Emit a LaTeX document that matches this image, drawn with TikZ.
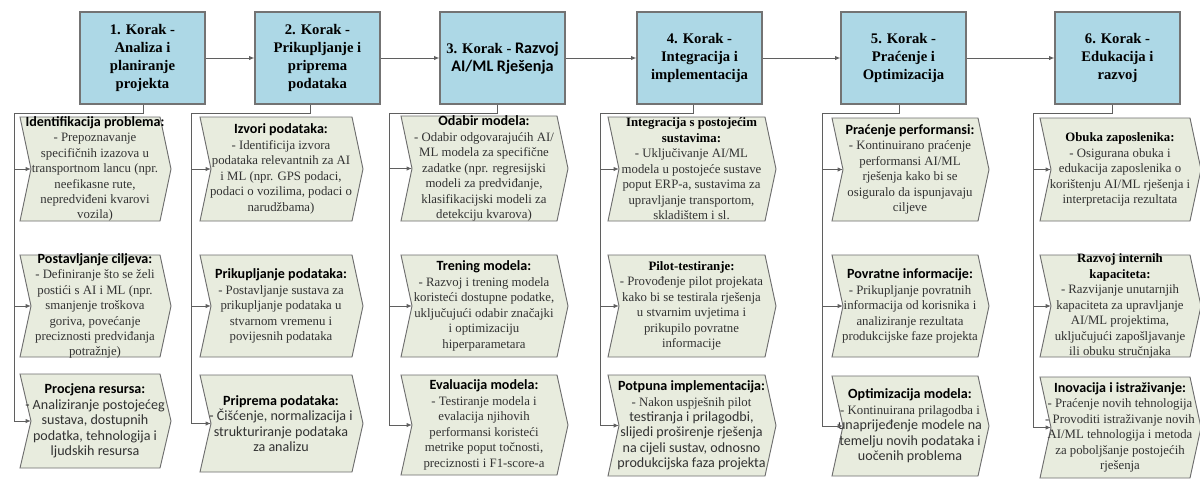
\documentclass[tikz,border=0pt]{standalone}
\usepackage{fontspec}
\setmainfont{Liberation Serif}
\newfontfamily\calib[Scale=1.1]{Carlito}
\usetikzlibrary{arrows.meta,calc}
\definecolor{hdrfill}{RGB}{173,216,230}
\definecolor{hdrline}{RGB}{115,115,115}
\definecolor{chfill}{RGB}{232,236,222}
\definecolor{chline}{RGB}{110,110,110}
\definecolor{connc}{RGB}{95,95,95}
\definecolor{bodytxt}{RGB}{50,50,50}
\newcommand\ts[1]{{\calib\bfseries\color{black}#1}}
\newcommand\tb[1]{{\bfseries\color{black}#1}}
\newcommand\sn[1]{{\calib #1}}
\tikzset{
  hdr/.style={draw=hdrline, fill=hdrfill, line width=0.8pt, minimum width=93.75pt,
    minimum height=69pt, align=center, inner sep=2pt,
    font=\fontsize{11}{13.6}\selectfont\bfseries},
  chshape/.style={draw=chline, fill=chfill, line width=0.7pt, line join=miter},
  chtext/.style={align=center, inner sep=0pt, text=bodytxt,
    font=\fontsize{9.6}{11.6}\selectfont},
  conn/.style={draw=connc, line width=0.7pt},
  arr/.style={conn, -{Latex[length=4pt,width=3.2pt]}},
}
% #1 name, #2 left x, #3 right x, #4 top y, #5 bottom y, #6 text
\newcommand\chev[6]{%
  \path[chshape] (#2,#4) -- (#3,#4) -- ({#3+11},{(#4+#5)/2}) -- (#3,#5) -- (#2,#5)
     -- ({#2+11},{(#4+#5)/2}) -- cycle;
  \node[chtext] (#1) at ({(#2+#3)/2+5},{(#4+#5)/2}) {#6};
  \coordinate (#1-in) at ({#2+11},{(#4+#5)/2});
}
\begin{document}
\begin{tikzpicture}[x=0.75pt,y=-0.75pt]
\useasboundingbox (0,0) rectangle (1200,480);
\fill[white] (0,0) rectangle (1200,480);

% header boxes
\node[hdr] (b1) at (142.5,58) {1. Korak -\\Analiza i\\planiranje\\projekta};
\node[hdr] (b2) at (317.5,58) {2. Korak -\\Prikupljanje i\\priprema\\podataka};
\node[hdr] (b3) at (502.5,58) {3. Korak - {\calib Razvoj}\\{\calib AI/ML Rješenja}};
\node[hdr] (b4) at (699.5,58) {4. Korak -\\Integracija i\\implementacija};
\node[hdr] (b5) at (903.5,58) {5. Korak -\\Praćenje i\\Optimizacija};
\node[hdr] (b6) at (1117.5,58) {6. Korak -\\Edukacija i\\razvoj};

\draw[arr] (b1) -- (b2);
\draw[arr] (b2) -- (b3);
\draw[arr] (b3) -- (b4);
\draw[arr] (b4) -- (b5);
\draw[arr] (b5) -- (b6);

% column 1
\chev{c11}{20}{160}{117}{221}{\ts{Identifikacija problema:}\\- Prepoznavanje\\specifičnih izazova u\\transportnom lancu (npr.\\neefikasne rute,\\nepredviđeni kvarovi\\vozila)}
\chev{c12}{20}{160}{255}{357}{\ts{Postavljanje ciljeva:}\\- Definiranje što se želi\\postići s AI i ML (npr.\\smanjenje troškova\\goriva, povećanje\\preciznosti predviđanja\\potražnje)}
\chev{c13}{20}{160}{374}{468}{\ts{Procjena resursa:}\\\sn{- Analiziranje postojećeg}\\\sn{sustava, dostupnih}\\\sn{podatka, tehnologija i}\\\sn{ljudskih resursa}}

% column 2
\chev{c21}{200}{352}{117}{221}{\ts{Izvori podataka:}\\- Identificija izvora\\podataka relevantnih za AI\\i ML (npr. GPS podaci,\\podaci o vozilima, podaci o\\narudžbama)}
\chev{c22}{200}{352}{255}{357}{\ts{Prikupljanje podataka:}\\- Postavljanje sustava za\\prikupljanje podataka u\\stvarnom vremenu i\\povijesnih podataka}
\chev{c23}{200}{352}{375}{472}{\ts{Priprema podataka:}\\\sn{- Čišćenje, normalizacija i}\\\sn{strukturiranje podataka}\\\sn{za analizu}}

% column 3
\chev{c31}{401}{557}{116}{221}{\ts{Odabir modela:}\\- Odabir odgovarajućih AI/\\ML modela za specifične\\zadatke (npr. regresijski\\modeli za predviđanje,\\klasifikacijski modeli za\\detekciju kvarova)}
\chev{c32}{401}{557}{255}{357}{\ts{Trening modela:}\\- Razvoj i trening modela\\koristeći dostupne podatke,\\uključujući odabir značajki\\i optimizaciju\\hiperparametara}
\chev{c33}{401}{557}{375}{475}{\ts{Evaluacija modela:}\\- Testiranje modela i\\evalacija njihovih\\performansi koristeći\\metrike poput točnosti,\\preciznosti i F1-score-a}

% column 4
\chev{c41}{608}{765}{117}{221}{\tb{Integracija s postojećim}\\\tb{sustavima:}\\- Uključivanje AI/ML\\modela u postojeće sustave\\poput ERP-a, sustavima za\\upravljanje transportom,\\skladištem i sl.}
\chev{c42}{608}{765}{255}{357}{\tb{Pilot-testiranje:}\\- Provođenje pilot projekata\\kako bi se testirala rješenja\\u stvarnim uvjetima i\\prikupilo povratne\\informacije}
\chev{c43}{608}{765}{375}{476}{\ts{Potpuna implementacija:}\\- Nakon uspješnih pilot\\\sn{testiranja i prilagodbi,}\\\sn{slijedi proširenje rješenja}\\\sn{na cijeli sustav, odnosno}\\\sn{produkcijska faza projekta}}

% column 5
\chev{c51}{832}{978}{118}{221}{\ts{Praćenje performansi:}\\- Kontinuirano praćenje\\performansi AI/ML\\rješenja kako bi se\\osiguralo da ispunjavaju\\ciljeve}
\chev{c52}{832}{978}{255}{357}{\ts{Povratne informacije:}\\- Prikupljanje povratnih\\informacija od korisnika i\\analiziranje rezultata\\produkcijske faze projekta}
\chev{c53}{832}{978}{376}{476}{\ts{Optimizacija modela:}\\- Kontinuirana prilagodba i\\\sn{unaprijeđenje modele na}\\\sn{temelju novih podataka i}\\\sn{uočenih problema}}

% column 6
\chev{c61}{1040}{1190}{118}{221}{\tb{Obuka zaposlenika:}\\- Osigurana obuka i\\edukacija zaposlenika o\\korištenju AI/ML rješenja i\\interpretacija rezultata}
\chev{c62}{1040}{1190}{255}{357}{\tb{Razvoj internih}\\\tb{kapaciteta:}\\- Razvijanje unutarnjih\\kapaciteta za upravljanje\\AI/ML projektima,\\uključujući zapošljavanje\\ili obuku stručnjaka}
\chev{c63}{1040}{1190}{377}{478}{\ts{Inovacija i istraživanje:}\\- Praćenje novih tehnologija\\- Provoditi istraživanje novih\\AI/ML tehnologija i metoda\\za poboljšanje postojećih\\rješenja}

% tree connectors
\coordinate (d1) at (143,113);  \coordinate (t1) at (14,113);
\coordinate (d2) at (310,113);  \coordinate (t2) at (191,113);
\coordinate (d3) at (497,113);  \coordinate (t3) at (389,113);
\coordinate (d4) at (693,113);  \coordinate (t4) at (600,113);
\coordinate (d5) at (899,113);  \coordinate (t5) at (822,113);
\coordinate (d6) at (1112,113); \coordinate (t6) at (1033,113);
\foreach \i in {1,...,6}{
  \draw[conn] (d\i |- b\i.south) -- (d\i) -- (t\i) -- (t\i |- c\i3-in);
  \foreach \j in {1,2,3}{
    \draw[arr] (t\i |- c\i\j-in) -- (c\i\j-in);
  }
}
\end{tikzpicture}
\end{document}
